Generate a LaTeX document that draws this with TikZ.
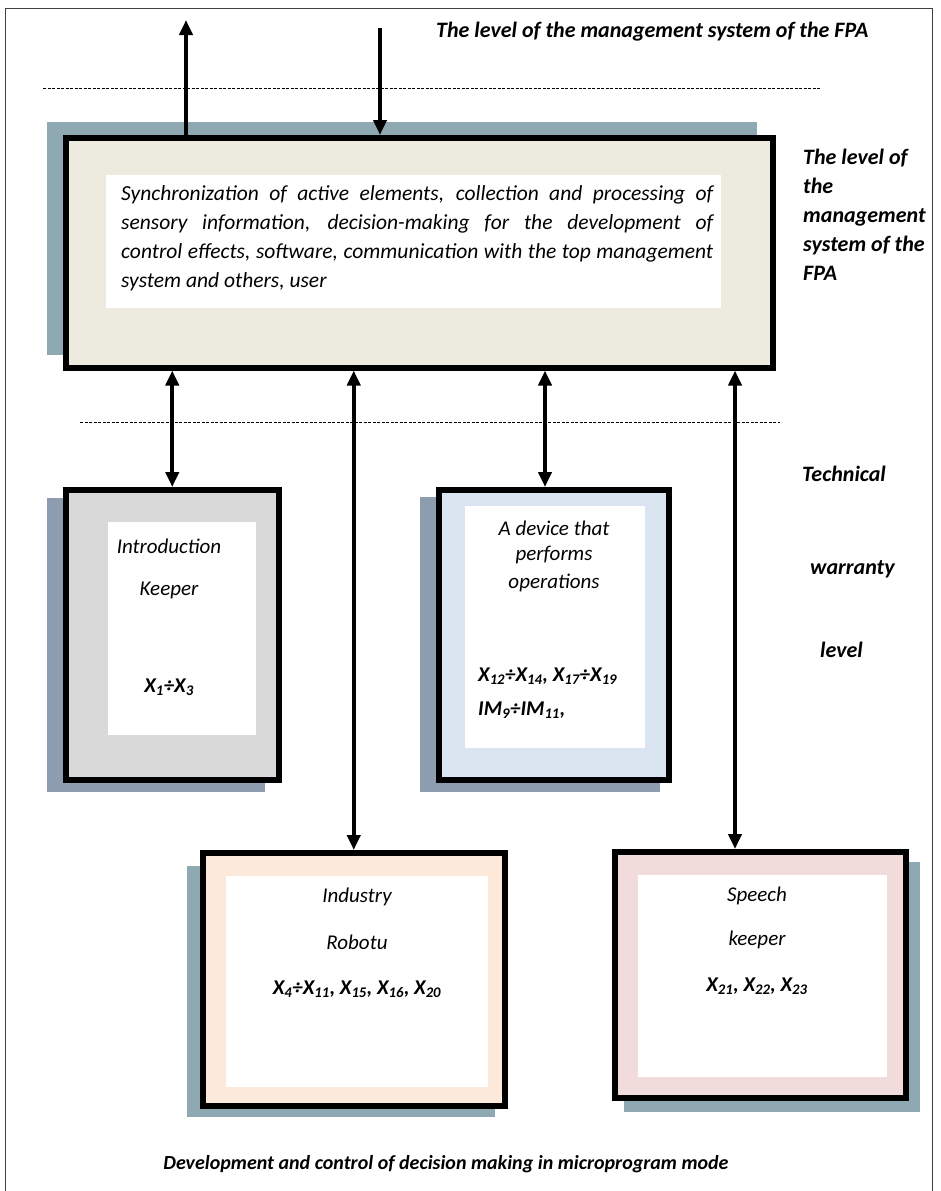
\documentclass[tikz,border=0pt]{standalone}
\usepackage{fontspec}
\setmainfont{Carlito}
\usetikzlibrary{arrows.meta,calc}
\definecolor{shadowblue}{HTML}{8FA9B3}
\definecolor{shadowgray}{HTML}{8E9CB0}
\definecolor{ctrlfill}{HTML}{EDEBE0}
\definecolor{keepfill}{HTML}{D9D9D9}
\definecolor{devfill}{HTML}{DBE5F1}
\definecolor{robfill}{HTML}{FCE9DA}
\definecolor{speechfill}{HTML}{F2DCDB}
\tikzset{
  block/.style={draw=black,line width=5.5pt,inner sep=0pt,anchor=north west},
  inner/.style={fill=white,inner sep=0pt,anchor=north west},
  link/.style={line width=4pt,-{Triangle[length=15pt,width=13pt]}},
  dbllink/.style={line width=4pt,{Triangle[length=15pt,width=13pt]}-{Triangle[length=15pt,width=13pt]}},
  levelline/.style={line width=0.7pt,dash pattern=on 3pt off 1.5pt},
  boxtxt/.style={font=\fontsize{21}{24}\selectfont\itshape,inner sep=0pt},
  idxtxt/.style={font=\fontsize{21}{24}\selectfont\bfseries\itshape,inner sep=0pt},
  leveltxt/.style={font=\fontsize{22}{29}\selectfont\bfseries\itshape,inner sep=0pt,anchor=west}
}
\begin{document}
\begin{tikzpicture}[x=1pt,y=-1pt]
\useasboundingbox (0,0) rectangle (940,1191);
% frame
\draw[black!75,line width=0.8pt] (5,1191) -- (5,8) -- (932,8) -- (932,1191);

% control level
\fill[shadowblue] (47,122) rectangle (757,355);
\node[block,fill=ctrlfill,minimum width=707pt,minimum height=230pt] (ctrl) at (63,135) {};
\node[inner,minimum width=615pt,minimum height=133pt] (ctrlin) at (106,175) {};
\node[inner sep=0pt,text width=592pt,align=justify,anchor=north west,
  font=\fontsize{21.5}{29}\selectfont\itshape] (ctrltxt) at (121,185)
  {Synchronization of active elements, collection and processing of\linebreak
   sensory information, decision-making for the development of\linebreak
   control effects, software, communication with the top management\linebreak
   system and others, user};

% level lines
\draw[levelline] (43,88) -- (820,88);
\draw[levelline] (80,422) -- (780,422);

% technical level boxes
\fill[shadowgray] (47,498) rectangle (265,792);
\node[block,fill=keepfill,minimum width=213pt,minimum height=290pt] (keeper) at (63,487) {};
\node[inner,minimum width=148pt,minimum height=213pt] at (108,522) {};
\node[boxtxt] (keep1) at (169,546) {Introduction};
\node[boxtxt] (keep2) at (169,590) {Keeper};
\node[idxtxt] (keep3) at (169,687) {X\textsubscript{1}÷X\textsubscript{3}};

\fill[shadowgray] (420,497) rectangle (660,792);
\node[block,fill=devfill,minimum width=230pt,minimum height=290pt] (device) at (436,487) {};
\node[inner,minimum width=180pt,minimum height=242pt] at (465,506) {};
\node[boxtxt] (dev1) at (554,528) {A device that};
\node[boxtxt] (dev2) at (554,555) {performs};
\node[boxtxt] (dev3) at (554,583) {operations};
\node[idxtxt,anchor=west] (dev4) at (478,676) {X\textsubscript{12}÷X\textsubscript{14}, X\textsubscript{17}÷X\textsubscript{19}};
\node[idxtxt,anchor=west] (dev5) at (478,710) {IM\textsubscript{9}÷IM\textsubscript{11},};

\fill[shadowblue] (187,866) rectangle (495,1117);
\node[block,fill=robfill,minimum width=302pt,minimum height=253pt] (robot) at (200,850) {};
\node[inner,minimum width=262pt,minimum height=211pt] at (226,876) {};
\node[boxtxt] (rob1) at (357,897) {Industry};
\node[boxtxt] (rob2) at (357,942) {Robotu};
\node[idxtxt] (rob3) at (357,989) {X\textsubscript{4}÷X\textsubscript{11}, X\textsubscript{15}, X\textsubscript{16}, X\textsubscript{20}};

\fill[shadowblue] (624,862) rectangle (920,1112);
\node[block,fill=speechfill,minimum width=291pt,minimum height=246pt] (speech) at (612,849) {};
\node[inner,minimum width=249pt,minimum height=202pt] at (638,875) {};
\node[boxtxt] (sp1) at (757,896) {Speech};
\node[boxtxt] (sp2) at (757,940) {keeper};
\node[idxtxt] (sp3) at (757,986) {X\textsubscript{21}, X\textsubscript{22}, X\textsubscript{23}};

% connectors
\coordinate (up) at (186,20);
\coordinate (down) at (380,28);
\draw[link] (ctrl.north -| up) -- (up);
\draw[link] (down) -- (ctrl.north -| down);
\draw[dbllink] (ctrl.south -| keeper.north) -- (keeper.north);
\draw[dbllink] (ctrl.south -| 545,0) -- (device.north -| 545,0);
\draw[dbllink] (ctrl.south -| robot.north) -- (robot.north);
\draw[dbllink] (ctrl.south -| 735,0) -- (speech.north -| 735,0);

% level labels
\node[leveltxt] (lvltop) at (436,32) {The level of the management system of the FPA};
\node[leveltxt,align=left,anchor=north west] (lvlctrl) at (803,149)
  {The level of\\the\\management\\system of the\\FPA};
\node[leveltxt] (tech1) at (802,474) {Technical};
\node[leveltxt] (tech2) at (810,569) {warranty};
\node[leveltxt] (tech3) at (820,650) {level};
\node[leveltxt,anchor=center,font=\fontsize{20}{24}\selectfont\bfseries\itshape] (mode) at (446,1164)
  {Development and control of decision making in microprogram mode};
\end{tikzpicture}
\end{document}
